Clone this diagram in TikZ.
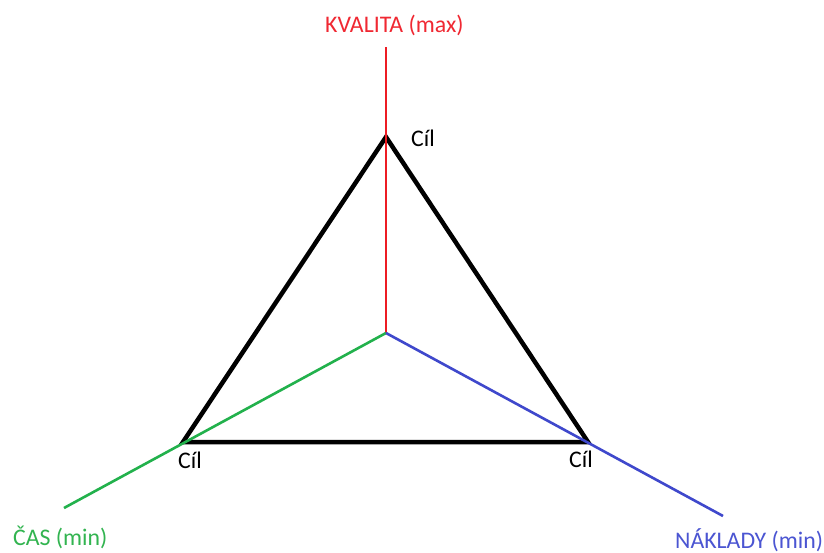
\documentclass[tikz,border=0pt]{standalone}
\usepackage{fontspec}
\setmainfont{Carlito}
\definecolor{pred}{RGB}{237,28,36}
\definecolor{pgreen}{RGB}{34,177,76}
\definecolor{pblue}{RGB}{63,72,204}
\definecolor{tred}{RGB}{240,40,50}
\definecolor{tgreen}{RGB}{50,180,80}
\definecolor{tblue}{RGB}{75,85,210}
\begin{document}
\begin{tikzpicture}[x=1pt,y=-1pt,
  lbl/.style={inner sep=0pt,anchor=base west,font=\fontsize{23.8}{28}\selectfont},
  axis/.style={line width=2.6pt},
  tri/.style={line width=4.5pt,line join=miter}]
\useasboundingbox[fill=white] (0,0) rectangle (824,553);
\coordinate (c) at (386,333);
\coordinate (qend) at (386,47);
\coordinate (tend) at (64,508);
\coordinate (nend) at (723,516);
\coordinate (top) at (386,137);
\coordinate (bl) at (183,442);
\coordinate (br) at (588,442);
\draw[tri] (top) -- (bl) -- (br) -- cycle;
\draw[axis,pred] (c) -- (qend);
\draw[axis,pgreen] (c) -- (tend);
\draw[axis,pblue] (c) -- (nend);
\node[lbl,text=tred] (kval) at (325,33) {KVALITA (max)};
\node[lbl,text=tgreen] (cas) at (13,545) {ČAS (min)};
\node[lbl,text=tblue] (nakl) at (675,548) {NÁKLADY (min)};
\node[lbl] (c1) at (411,147) {Cíl};
\node[lbl] (c2) at (178,468) {Cíl};
\node[lbl] (c3) at (569,467) {Cíl};
\end{tikzpicture}
\end{document}
